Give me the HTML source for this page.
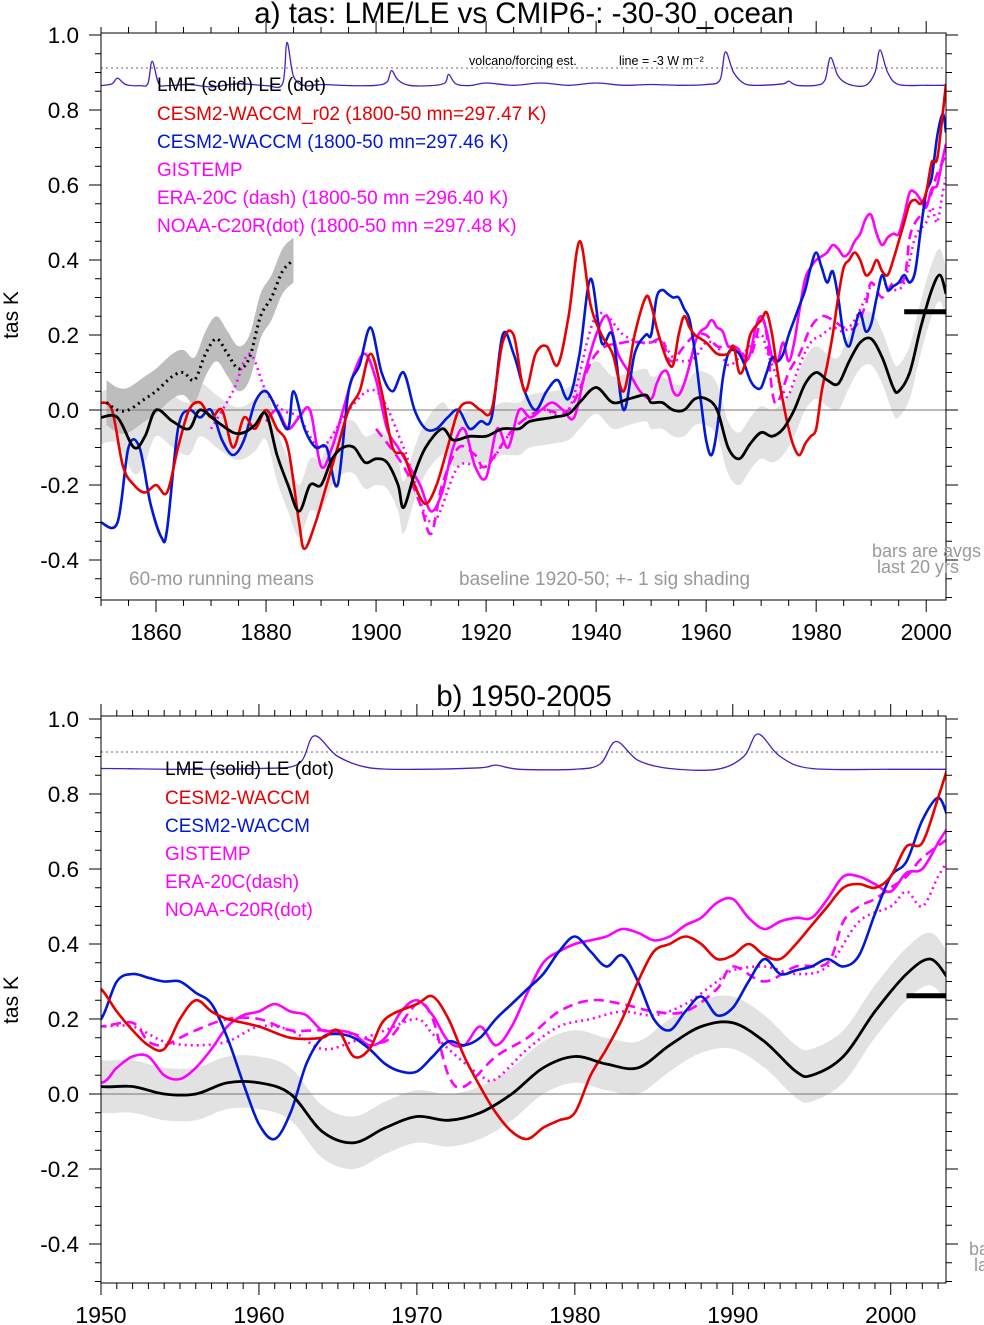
<!DOCTYPE html>
<html><head><meta charset="utf-8"><style>
html,body{margin:0;padding:0;background:#fff}
svg{display:block;font-family:"Liberation Sans",sans-serif}
</style></head><body>
<svg id="chart" width="984" height="1325" viewBox="0 0 984 1325"></svg>
<script>
// ---------- data ----------
const lmeYears=[1850,1853,1856,1858,1860,1863,1866,1868,1871,1874,1876,1878,1880,1882,1884,1886,1888,1890,1892,1894,1896,1898,1900,1902,1904,1905,1907,1909,1912,1914,1917,1920,1923,1926,1928,1932,1935,1937,1940,1943,1946,1949,1950,1952,1954,1956,1958,1960,1962,1964,1966,1968,1970,1972,1974,1976,1978,1980,1982,1984,1986,1988,1990,1992,1994,1995,1997,1999,2001,2002.5,2003.6];
const lmeVals=[-0.02,-0.02,-0.1,-0.07,0.0,-0.03,-0.05,0.0,-0.03,-0.06,-0.06,-0.04,-0.01,-0.12,-0.2,-0.27,-0.2,-0.2,-0.13,-0.1,-0.1,-0.14,-0.13,-0.14,-0.2,-0.26,-0.17,-0.1,-0.05,-0.08,-0.07,-0.07,-0.05,-0.05,-0.03,-0.02,-0.01,0.02,0.06,0.02,0.03,0.04,0.02,0.02,0.0,0.0,0.03,0.03,0.0,-0.1,-0.13,-0.09,-0.06,-0.07,-0.05,0.0,0.07,0.1,0.08,0.07,0.13,0.18,0.19,0.14,0.06,0.05,0.1,0.22,0.32,0.36,0.31];
const leYears=[1851,1853,1855,1858,1860,1863,1865,1867,1869,1871,1873,1875,1877,1879,1881,1883,1885];
const leVals=[0.02,0.0,0.0,0.03,0.05,0.09,0.1,0.08,0.15,0.19,0.15,0.11,0.14,0.25,0.3,0.37,0.4];
const redYears=[1850,1852,1854,1856,1858,1860,1862,1864,1866,1868,1870,1872,1874,1876,1878,1880,1882,1884,1886,1887,1889,1891,1893,1895,1897,1899,1901,1903,1905,1907,1909,1911,1913,1915,1917,1919,1921,1923,1925,1927,1929,1931,1933,1935,1937,1939,1941,1943,1945,1947,1949,1950,1951,1952,1953,1954,1955,1956,1957,1958,1960,1962,1964,1965,1966,1967,1968,1970,1971,1972,1973,1974,1975,1976,1977,1978,1979,1980,1981,1982,1983,1984,1985,1986,1987,1988,1989,1990,1991,1992,1993,1994,1995,1996,1997,1998,1999,2000,2001,2002,2003,2003.6];
const redVals=[0.02,0.0,-0.15,-0.2,-0.22,-0.2,-0.22,-0.1,0.0,0.02,-0.02,0.0,-0.1,-0.02,-0.05,0.0,-0.05,-0.1,-0.3,-0.37,-0.3,-0.2,-0.1,0.0,0.05,0.15,0.05,-0.1,-0.12,-0.2,-0.25,-0.2,-0.1,0.0,0.02,0.0,0.0,0.18,0.2,0.05,0.15,0.17,0.12,0.25,0.45,0.28,0.2,0.15,0.05,0.2,0.3,0.28,0.22,0.17,0.13,0.12,0.2,0.25,0.22,0.2,0.18,0.15,0.15,0.17,0.1,0.12,0.2,0.24,0.26,0.2,0.1,0.02,-0.05,-0.1,-0.12,-0.09,-0.07,-0.05,0.05,0.12,0.2,0.3,0.38,0.4,0.42,0.4,0.36,0.37,0.4,0.37,0.36,0.4,0.45,0.5,0.55,0.56,0.55,0.58,0.66,0.67,0.79,0.87];
const blueYears=[1850,1853,1855,1857,1859,1861,1862,1864,1866,1868,1870,1872,1874,1876,1878,1880,1882,1884,1885,1887,1889,1891,1893,1895,1897,1899,1901,1903,1905,1907,1909,1911,1913,1915,1917,1919,1921,1923,1925,1927,1929,1931,1933,1935,1937,1939,1941,1943,1945,1947,1949,1950,1951,1952,1953,1954,1955,1956,1957,1958,1959,1960,1961,1962,1963,1964,1965,1966,1967,1968,1969,1970,1971,1972,1973,1974,1975,1976,1977,1978,1979,1980,1981,1982,1983,1984,1985,1986,1987,1988,1989,1990,1991,1992,1993,1994,1995,1996,1997,1998,1999,2000,2001,2002,2003,2003.6];
const blueVals=[-0.3,-0.3,-0.1,-0.1,-0.25,-0.34,-0.32,-0.05,0.0,-0.02,0.0,-0.08,-0.12,-0.08,0.02,0.05,0.0,-0.05,0.05,-0.05,-0.1,-0.1,-0.2,0.05,0.12,0.22,0.1,0.05,0.1,0.0,-0.05,-0.05,-0.02,0.0,-0.05,-0.03,-0.02,0.2,0.15,0.05,0.0,0.05,0.08,0.03,0.15,0.35,0.18,0.2,0.0,0.15,0.2,0.2,0.3,0.32,0.31,0.3,0.3,0.27,0.24,0.15,0.03,-0.08,-0.12,-0.05,0.08,0.15,0.16,0.15,0.12,0.08,0.06,0.06,0.1,0.14,0.13,0.15,0.2,0.24,0.28,0.32,0.38,0.42,0.38,0.34,0.37,0.3,0.2,0.17,0.22,0.26,0.21,0.23,0.3,0.36,0.32,0.33,0.34,0.36,0.34,0.37,0.48,0.58,0.62,0.73,0.79,0.74];
const gisYears=[1880,1882,1884,1886,1888,1890,1892,1894,1896,1898,1900,1902,1904,1906,1908,1910,1912,1914,1916,1918,1920,1922,1924,1926,1928,1930,1932,1934,1936,1938,1940,1942,1944,1946,1948,1950,1951,1952,1953,1954,1955,1956,1957,1958,1959,1960,1961,1962,1963,1964,1965,1966,1967,1968,1969,1970,1971,1972,1973,1974,1975,1976,1977,1978,1979,1980,1981,1982,1983,1984,1985,1986,1987,1988,1989,1990,1991,1992,1993,1994,1995,1996,1997,1998,1999,2000,2001,2002,2003,2003.6];
const gisVals=[-0.03,0.0,-0.05,-0.02,0.0,-0.15,-0.1,0.0,0.1,0.15,0.08,-0.05,-0.1,-0.15,-0.2,-0.27,-0.22,-0.1,-0.05,-0.15,-0.18,-0.05,-0.1,0.0,-0.02,0.0,0.02,0.0,-0.02,0.1,0.2,0.25,0.15,0.1,0.05,0.03,0.07,0.1,0.1,0.05,0.04,0.07,0.12,0.18,0.21,0.22,0.24,0.22,0.21,0.17,0.17,0.16,0.13,0.15,0.22,0.25,0.21,0.14,0.13,0.18,0.13,0.18,0.27,0.35,0.38,0.4,0.41,0.42,0.44,0.43,0.41,0.42,0.45,0.47,0.51,0.52,0.47,0.44,0.46,0.47,0.47,0.52,0.58,0.58,0.56,0.54,0.59,0.6,0.67,0.71];
const eraYears=[1900,1905,1908,1910,1912,1915,1918,1920,1925,1930,1935,1940,1945,1948,1950,1952,1953,1954,1955,1956,1958,1960,1962,1964,1966,1968,1970,1971,1972,1973,1975,1977,1979,1981,1983,1985,1987,1989,1990,1992,1994,1996,1997,1998,1999,2000,2001,2002,2003.6];
const eraVals=[-0.05,-0.15,-0.25,-0.33,-0.2,-0.1,-0.12,-0.15,-0.05,0.0,0.0,0.15,0.18,0.18,0.18,0.19,0.14,0.13,0.15,0.17,0.2,0.2,0.17,0.17,0.16,0.14,0.24,0.2,0.05,0.02,0.1,0.15,0.22,0.25,0.24,0.22,0.22,0.28,0.34,0.3,0.34,0.35,0.46,0.5,0.52,0.55,0.58,0.63,0.68];
const noaaYears=[1870,1874,1877,1880,1883,1886,1890,1895,1900,1905,1910,1915,1920,1925,1930,1935,1940,1945,1948,1950,1952,1954,1956,1958,1960,1962,1964,1966,1968,1970,1971,1972,1974,1975,1977,1979,1981,1983,1985,1987,1989,1990,1992,1994,1996,1998,2000,2001,2002,2003,2003.6];
const noaaVals=[-0.05,0.05,0.15,0.05,0.0,-0.02,-0.1,0.0,0.05,-0.1,-0.3,-0.15,-0.15,-0.05,0.0,0.0,0.25,0.2,0.18,0.18,0.18,0.14,0.13,0.14,0.18,0.17,0.12,0.14,0.17,0.2,0.16,0.12,0.05,0.04,0.12,0.18,0.2,0.22,0.21,0.24,0.3,0.33,0.34,0.32,0.34,0.46,0.5,0.54,0.5,0.58,0.62];
const volYears=[1850,1852,1853,1854.5,1857,1858.5,1859.3,1860.5,1862,1866,1870,1875,1880,1883,1883.8,1885,1887,1890,1895,1900,1902,1902.8,1904,1906,1910,1912.5,1913.2,1914.5,1917,1920,1925,1930,1935,1940,1945,1950,1955,1960,1962.5,1963.5,1965,1967,1970,1974,1975,1976.5,1980,1981.6,1982.6,1984,1986,1989,1990.7,1991.6,1993,1995,2000,2003.6];
const volVals=[0.865,0.87,0.885,0.868,0.865,0.87,0.93,0.87,0.865,0.868,0.862,0.87,0.865,0.87,0.98,0.89,0.865,0.868,0.865,0.866,0.875,0.905,0.88,0.866,0.865,0.872,0.895,0.87,0.865,0.872,0.866,0.872,0.866,0.872,0.866,0.868,0.866,0.868,0.88,0.955,0.9,0.87,0.866,0.87,0.877,0.866,0.866,0.88,0.94,0.89,0.868,0.866,0.9,0.96,0.9,0.868,0.866,0.866];
const yTicks=[-0.4,-0.2,0.0,0.2,0.4,0.6,0.8,1.0];
const yTickLabels=["-0.4","-0.2","0.0","0.2","0.4","0.6","0.8","1.0"];
const sigLME=0.07, sigLE=0.06, barVal=0.262;

// ---------- drawing ----------
const svg=document.getElementById('chart');
const NS='http://www.w3.org/2000/svg';
function mk(tag,attrs,parent){const e=document.createElementNS(NS,tag);for(const k in attrs)e.setAttribute(k,attrs[k]);(parent||svg).appendChild(e);return e;}
function smoothPath(pts){
  if(pts.length<2)return '';
  let d='M'+pts[0][0].toFixed(1)+','+pts[0][1].toFixed(1);
  for(let i=0;i<pts.length-1;i++){
    const p0=pts[Math.max(i-1,0)],p1=pts[i],p2=pts[i+1],p3=pts[Math.min(i+2,pts.length-1)];
    const c1=[p1[0]+(p2[0]-p0[0])/6,p1[1]+(p2[1]-p0[1])/6];
    const c2=[p2[0]-(p3[0]-p1[0])/6,p2[1]-(p3[1]-p1[1])/6];
    d+=' C'+c1[0].toFixed(1)+','+c1[1].toFixed(1)+' '+c2[0].toFixed(1)+','+c2[1].toFixed(1)+' '+p2[0].toFixed(1)+','+p2[1].toFixed(1);
  }
  return d;
}
function panel(cfg){
  const {L,R,T,B,x0,x1,y0px,id}=cfg;
  const xs=y=>L+(y-x0)/(x1-x0)*(R-L);
  const ys=v=>y0px-v*375;
  const g=mk('g',{});
  
  
  const cp=mk('clipPath',{id:'clip'+id},g);
  mk('rect',{x:L,y:T,width:R-L,height:B-T},cp);
  const pg=mk('g',{'clip-path':'url(#clip'+id+')'},g);
  function band(years,vals,sig,name,fill){
    const lo=[],hi=[];
    for(let i=0;i<years.length;i++){hi.push([xs(years[i]),ys(vals[i]+sig)]);lo.push([xs(years[i]),ys(vals[i]-sig)]);}
    const d=smoothPath(hi)+' L'+smoothPath(lo.reverse()).slice(1)+' Z';
    const p=mk('path',{d:d,fill:fill,stroke:'none'},pg);
    
  }
  band(lmeYears,lmeVals,sigLME,id+'-lme-shading','#e2e2e2');
  if(cfg.le) band(leYears,leVals,sigLE,id+'-le-shading','#bdbdbd');
  const z=mk('line',{x1:L,x2:R,y1:ys(0),y2:ys(0),stroke:'#777','stroke-width':1},pg);
  
  const r=mk('line',{x1:L,x2:R,y1:ys(0.912),y2:ys(0.912),stroke:'#666','stroke-width':1,'stroke-dasharray':'2,3'},pg);
  
  function line(years,vals,color,w,dash,name){
    const pts=years.map((y,i)=>[xs(y),ys(vals[i])]);
    const a={d:smoothPath(pts),fill:'none',stroke:color,'stroke-width':w,'stroke-linejoin':'round'};
    if(dash)a['stroke-dasharray']=dash;
    const p=mk('path',a,pg);
    
  }
  line(volYears,volVals,'#4a1ec0',1.3,null,id+'-volcano-line');
  line(noaaYears,noaaVals,'#ff00ff',2.6,'2,4',id+'-noaa-c20r-line');
  line(eraYears,eraVals,'#ff00ff',2.6,'10,6',id+'-era20c-line');
  line(gisYears,gisVals,'#ff00ff',2.6,null,id+'-gistemp-line');
  line(blueYears,blueVals,'#0018d8',2.6,null,id+'-cesm2-waccm-line');
  line(redYears,redVals,'#e80000',2.6,null,id+'-cesm2-waccm-r02-line');
  line(lmeYears,lmeVals,'#000',2.8,null,id+'-lme-line');
  if(cfg.le) line(leYears,leVals,'#000',3,'2,4',id+'-le-line');
  const bar=mk('line',{x1:xs(cfg.barStart),x2:xs(2003.6),y1:ys(barVal),y2:ys(barVal),stroke:'#000','stroke-width':5},pg);
  
  const fr=mk('rect',{x:L,y:T,width:R-L,height:B-T,fill:'none',stroke:'#000','stroke-width':1},g);
  
  for(let v=-0.5;v<=1.0001;v+=0.05){
    const yy=ys(v);if(yy<T-0.5||yy>B+0.5)continue;
    const major=Math.abs(Math.round(v*10)-v*10)<0.01 && Math.round(v*10)%2===0;
    const len=major?12:6;
    mk('line',{x1:L-len,x2:L,y1:yy,y2:yy,stroke:'#000','stroke-width':1},g);
    mk('line',{x1:R,x2:R+len,y1:yy,y2:yy,stroke:'#000','stroke-width':1},g);
  }
  yTicks.forEach((v,i)=>{
    const t=mk('text',{x:L-22,y:ys(v)+8,'text-anchor':'end','font-size':22.5,fill:'#000'},g);
    t.textContent=yTickLabels[i];
    
  });
  const startYr=Math.ceil(x0/cfg.minor)*cfg.minor;
  for(let y=startYr;y<=x1;y+=cfg.minor){
    const xx=xs(y);const major=Math.abs(y%cfg.major)<0.01;const len=major?12:6;
    mk('line',{x1:xx,x2:xx,y1:B,y2:B+len,stroke:'#000','stroke-width':1},g);
    mk('line',{x1:xx,x2:xx,y1:T-len,y2:T,stroke:'#000','stroke-width':1},g);
    if(major && y>=cfg.firstLabel){
      const t=mk('text',{x:xx,y:B+cfg.labDy,'text-anchor':'middle','font-size':23,fill:'#000'},g);
      t.textContent=String(y);
      
    }
  }
  const yl=mk('text',{x:0,y:0,transform:'translate(18,'+cfg.ylabY+') rotate(-90)','text-anchor':'middle','font-size':21,fill:'#000'},g);
  yl.textContent='tas K';
}
panel({id:'a',L:101,R:946,T:33,B:600,x0:1850,x1:2003.6,y0px:410,le:true,barStart:1996,minor:5,major:20,firstLabel:1860,labDy:40,ylabY:315});
panel({id:'b',L:101,R:946,T:716,B:1283,x0:1950,x1:2003.5,y0px:1094,le:false,barStart:2001,minor:1,major:10,firstLabel:1950,labDy:40,ylabY:1000});

function txt(x,y,s,size,color,name,anchor){
  const t=mk('text',{x:x,y:y,'font-size':size,fill:color,'text-anchor':anchor||'start'});
  t.textContent=s;return t;
}
txt(524,23,'a) tas: LME/LE vs CMIP6-: -30-30_ocean',29.5,'#000','title-a','middle');
txt(157,91,'LME (solid)   LE (dot)',19,'#000','legend-lme-le');
txt(157,120,'CESM2-WACCM_r02 (1800-50 mn=297.47 K)',19,'#e80000','legend-cesm2-waccm-r02');
txt(157,148,'CESM2-WACCM (1800-50 mn=297.46 K)',19,'#0018d8','legend-cesm2-waccm');
txt(157,176,'GISTEMP',19,'#ff00ff','legend-gistemp');
txt(157,204,'ERA-20C (dash) (1800-50 mn =296.40 K)',19,'#ff00ff','legend-era20c');
txt(157,232,'NOAA-C20R(dot) (1800-50 mn =297.48 K)',19,'#ff00ff','legend-noaa-c20r');
txt(469,65,'volcano/forcing est.',12.5,'#000','volcano-label');
txt(619,65,'line = -3 W m\u207B\u00B2',12.5,'#000','forcing-scale-label');
txt(129,585,'60-mo running means',19,'#999','running-mean-note');
txt(459,585,'baseline 1920-50; +- 1 sig shading',19,'#999','baseline-note');
txt(872,557,'bars are avgs',18,'#999','bars-note-a');
txt(877,573,'last 20 yrs',18,'#999','bars-note-a2');
txt(524,706,'b) 1950-2005',29.5,'#000','title-b','middle');
txt(165,775,'LME (solid)    LE (dot)',19,'#000','legend-b-lme-le');
txt(165,804,'CESM2-WACCM',19,'#e80000','legend-b-cesm2-waccm-r02');
txt(165,832,'CESM2-WACCM',19,'#0018d8','legend-b-cesm2-waccm');
txt(165,860,'GISTEMP',19,'#ff00ff','legend-b-gistemp');
txt(165,888,'ERA-20C(dash)',19,'#ff00ff','legend-b-era20c');
txt(165,916,'NOAA-C20R(dot)',19,'#ff00ff','legend-b-noaa-c20r');
txt(969,1255,'ba',18,'#999','bars-note-b');
txt(974,1271,'la',18,'#999','bars-note-b2');
</script>
</body></html>
